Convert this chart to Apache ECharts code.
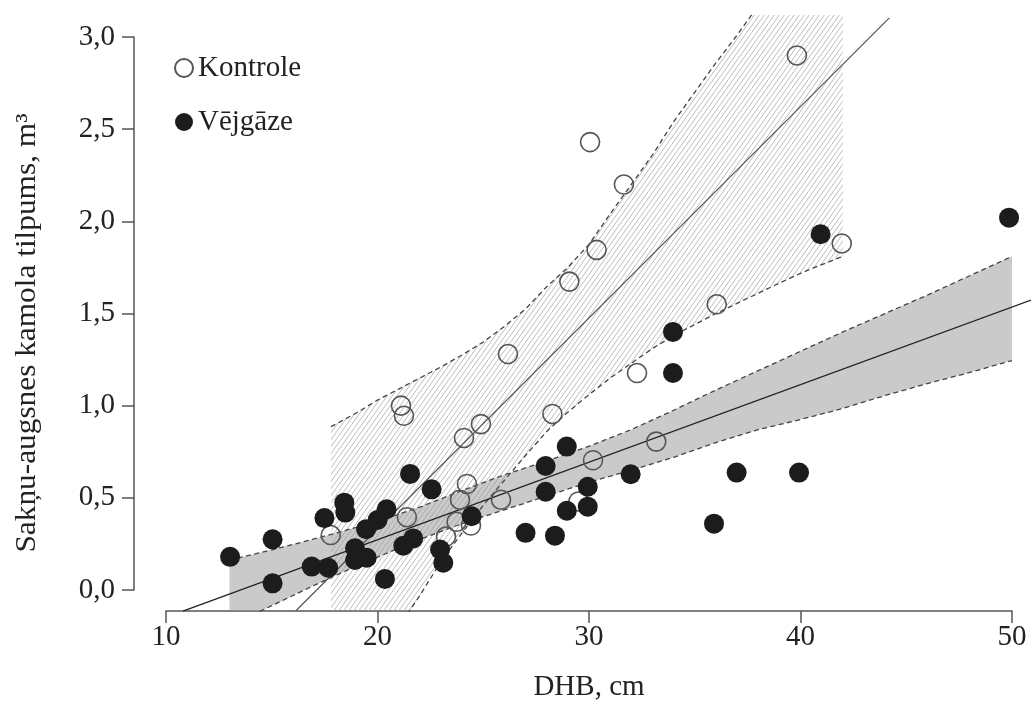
<!DOCTYPE html>
<html><head><meta charset="utf-8">
<script src="https://cdn.jsdelivr.net/npm/echarts@6/dist/echarts.min.js"></script>
<style>html,body{margin:0;padding:0;background:#fff}#c{width:1031px;height:702px}</style>
</head><body><div id="c"></div>
<script>
// ---- data ----
const kontrole = [[39.83,2.90],[30.05,2.43],[31.65,2.20],[41.95,1.88],[30.36,1.845],[29.07,1.673],
  [36.04,1.55],[26.17,1.28],[32.27,1.177],[21.11,1.0],[21.25,0.945],[28.27,0.955],[24.89,0.90],
  [24.09,0.825],[33.18,0.805],[30.19,0.704],[24.23,0.575],[23.9,0.49],[25.84,0.49],[21.39,0.395],
  [17.79,0.298],[23.74,0.37],[24.42,0.35],[23.24,0.29],[29.5,0.48]];
const vejgaze = [[13.03,0.18],[15.04,0.275],[15.04,0.036],[18.43,0.474],[18.48,0.42],[17.49,0.39],
  [16.89,0.127],[17.67,0.121],[18.94,0.226],[18.94,0.163],[19.46,0.33],[20.0,0.38],[20.43,0.438],
  [19.49,0.175],[21.22,0.24],[21.69,0.28],[20.35,0.06],[21.54,0.63],[22.56,0.546],[22.96,0.22],
  [23.11,0.148],[24.45,0.40],[27.0,0.31],[28.39,0.295],[28.95,0.778],[27.95,0.673],[27.95,0.533],
  [29.94,0.56],[29.94,0.452],[28.95,0.43],[31.97,0.628],[35.91,0.36],[36.98,0.637],[39.93,0.637],
  [33.97,1.40],[33.97,1.177],[40.95,1.93],[49.86,2.02]];
const kontroleBandX    = [17.8,19,20,21,22,23,24,25,26,27,28,29,30,31,32,33,34,35,36,37,38,39,40,41,42];
const kontroleBandHigh = [0.886,0.96,1.03,1.09,1.15,1.21,1.275,1.345,1.43,1.525,1.645,1.75,1.875,2.04,2.2,2.36,2.54,2.70,2.86,3.01,3.17,3.3,3.3,3.3,3.3];
const kontroleBandLow  = [-0.85,-0.6,-0.4,-0.2,-0.03,0.155,0.31,0.46,0.595,0.73,0.86,0.965,1.06,1.15,1.23,1.31,1.38,1.44,1.50,1.555,1.61,1.665,1.718,1.765,1.81];
const vejgazeBandX    = [13,14,15,16,17,18,19,20,22,24,26,28,30,32,34,36,38,40,42,44,46,48,50];
const vejgazeBandHigh = [0.163,0.19,0.218,0.247,0.277,0.308,0.34,0.373,0.45,0.54,0.625,0.70,0.78,0.87,0.975,1.085,1.19,1.295,1.40,1.50,1.60,1.705,1.81];
const vejgazeBandLow  = [-0.2,-0.14,-0.085,-0.03,0.025,0.078,0.13,0.178,0.275,0.36,0.435,0.51,0.585,0.65,0.72,0.80,0.87,0.925,0.985,1.055,1.12,1.18,1.245];
const kontroleFit = [[16.13,-0.114],[44.2,3.104]];
const vejgazeFit  = [[10.8,-0.114],[50.9,1.573]];
const xTickLabels = ['10','20','30','40','50'];
const yTickLabels = ['0,0','0,5','1,0','1,5','2,0','2,5','3,0'];
const seriesNames = ['Kontrole','Vējgāze'];
const xTitle = 'DHB, cm';
const yTitle = 'Sakņu-augsnes kamola tilpums, m³';

// ---- styling ----
const FONT = '"Liberation Serif", "Times New Roman", serif';
const FS = 29;
const TXT = '#222';
const AX = '#555';

function hatch(){
  const w=5,h=7,c=document.createElement('canvas');c.width=w;c.height=h;
  const g=c.getContext('2d');g.strokeStyle='#acacac';g.lineWidth=0.8;
  g.beginPath();
  for(const o of [-w,0,w]){g.moveTo(o,h);g.lineTo(o+w,0);}
  g.stroke();return c;
}
const pair=(xs,ys)=>xs.map((x,i)=>[x,ys[i]]);
const dashed={color:'#444',width:1.3,type:[5,3.5]};

// band polygon drawn through the axis scales (api.coord)
function bandSeries(xs,hi,lo,fill,z){
  return {type:'custom',coordinateSystem:'cartesian2d',xAxisIndex:0,yAxisIndex:0,
    data:xs.map((x,i)=>[x,hi[i],lo[i]]),encode:{x:0,y:[1,2]},clip:true,z:z,silent:true,
    renderItem:function(params,api){
      if(params.dataIndex!==0) return null;
      const pts=[];
      for(let i=0;i<xs.length;i++) pts.push(api.coord([xs[i],hi[i]]));
      for(let i=xs.length-1;i>=0;i--) pts.push(api.coord([xs[i],lo[i]]));
      const cs=params.coordSys;
      return {type:'polygon',shape:{points:pts},style:{fill:fill},
        clipPath:{type:'rect',shape:{x:cs.x,y:cs.y,width:cs.width,height:cs.height}}};
    }};
}
function lineSeries(data,style,z){
  return {type:'line',xAxisIndex:0,yAxisIndex:0,data:data,symbol:'none',lineStyle:style,clip:true,z:z,silent:true};
}

const chart=echarts.init(document.getElementById('c'),null,{renderer:'canvas'});
chart.setOption({
  animation:false,
  backgroundColor:'#fff',
  grid:[
    {left:134,top:15,right:0,bottom:91,containLabel:false,outerBoundsMode:'none'},
    {left:166,top:15,right:19,bottom:91,containLabel:false,outerBoundsMode:'none'},
    {left:134,top:37,right:0,bottom:112,containLabel:false,outerBoundsMode:'none'}
  ],
  xAxis:[
    {gridIndex:0,type:'value',min:8.487,max:50.898,show:false},
    {gridIndex:1,type:'value',min:10,max:50,interval:10,
      axisLine:{show:true,lineStyle:{color:AX,width:1.5}},
      axisTick:{show:true,length:12,lineStyle:{color:AX,width:1.5}},
      axisLabel:{margin:12,fontFamily:FONT,fontSize:FS,color:TXT,
        formatter:v=>xTickLabels[Math.round((v-10)/10)]},
      splitLine:{show:false},
      name:xTitle,nameLocation:'middle',nameGap:62,
      nameTextStyle:{fontFamily:FONT,fontSize:FS,color:TXT}},
    {gridIndex:2,type:'value',show:false,min:0,max:1}
  ],
  yAxis:[
    {gridIndex:0,type:'value',min:-0.1139,max:3.1194,show:false},
    {gridIndex:1,type:'value',show:false,min:0,max:1},
    {gridIndex:2,type:'value',min:0,max:3,interval:0.5,
      axisLine:{show:true,lineStyle:{color:AX,width:1.5}},
      axisTick:{show:true,length:12,lineStyle:{color:AX,width:1.5}},
      axisLabel:{margin:19,fontFamily:FONT,fontSize:FS,color:TXT,
        formatter:v=>yTickLabels[Math.round(v/0.5)]},
      splitLine:{show:false}}
  ],
  legend:{data:seriesNames,orient:'vertical',left:174,top:53,padding:0,
    itemWidth:18,itemHeight:18,itemGap:24,
    textStyle:{fontFamily:FONT,fontSize:FS,color:TXT,lineHeight:30}},
  graphic:[{type:'text',x:27,y:333,rotation:Math.PI/2,scaleX:1.08,
    style:{text:yTitle,font:FS+'px '+FONT,fill:TXT,align:'center',verticalAlign:'middle'}}],
  series:[
    bandSeries(kontroleBandX,kontroleBandHigh,kontroleBandLow,{image:hatch(),repeat:'repeat'},1),
    bandSeries(vejgazeBandX,vejgazeBandHigh,vejgazeBandLow,'rgba(150,150,150,0.5)',2),
    lineSeries(pair(kontroleBandX,kontroleBandHigh),dashed,3),
    lineSeries(pair(kontroleBandX,kontroleBandLow),dashed,3),
    lineSeries(pair(vejgazeBandX,vejgazeBandHigh),dashed,3),
    lineSeries(pair(vejgazeBandX,vejgazeBandLow),dashed,3),
    lineSeries(kontroleFit,{color:'#555',width:1.2},3),
    lineSeries(vejgazeFit,{color:'#222',width:1.3},3),
    {type:'scatter',name:seriesNames[0],data:kontrole,symbol:'circle',symbolSize:19,
      itemStyle:{color:'rgba(255,255,255,0)',borderColor:'#555',borderWidth:1.6,opacity:1},z:4},
    {type:'scatter',name:seriesNames[1],data:vejgaze,symbol:'circle',symbolSize:20,
      itemStyle:{color:'#1c1c1c',opacity:1},z:5}
  ]
});
</script></body></html>
